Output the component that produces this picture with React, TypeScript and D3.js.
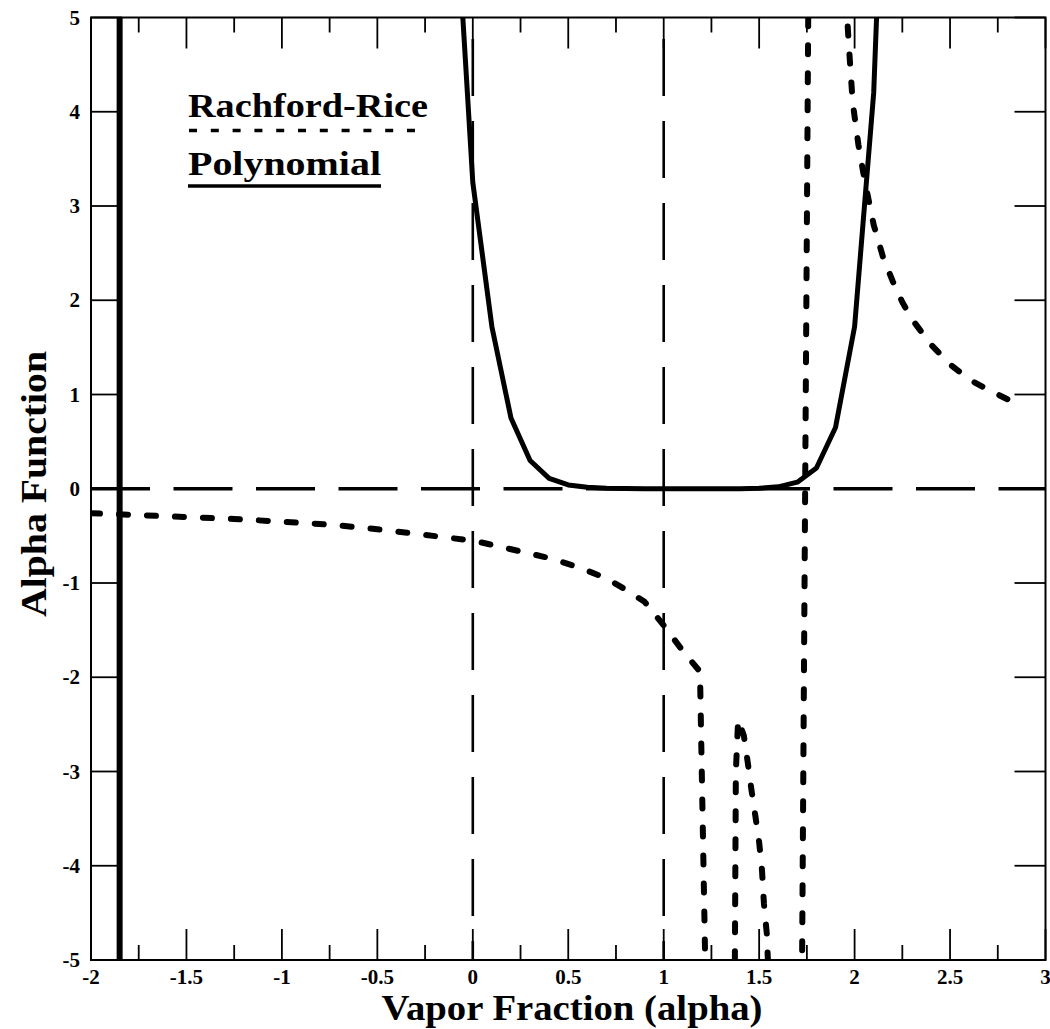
import React from "react";
import * as d3 from "d3";

// ---- data ----
const polyX = [-0.1, 0, 0.1, 0.2, 0.3, 0.4, 0.5, 0.6, 0.7, 0.8, 0.9, 1.0, 1.1, 1.2, 1.3, 1.4, 1.5, 1.6, 1.7, 1.8, 1.9, 2.0, 2.1, 2.2];
const polyY = [6.6, 3.25, 1.72, 0.75, 0.3, 0.11, 0.04, 0.015, 0.006, 0.002, 0.001, 0, 0, 0, 0.0005, 0.001, 0.005, 0.02, 0.07, 0.22, 0.65, 1.72, 4.2, 9.5];
const polyPoleX = [-1.85, -1.85];
const polyPoleY = [6, -6];

const rr1X = [-2, -1.75, -1.5, -1.25, -1, -0.75, -0.5, -0.25, 0, 0.1, 0.25, 0.4, 0.55, 0.7, 0.8, 0.9, 1.0, 1.1, 1.19, 1.22];
const rr1Y = [-0.26, -0.28, -0.3, -0.32, -0.35, -0.38, -0.43, -0.49, -0.55, -0.595, -0.665, -0.735, -0.83, -0.95, -1.07, -1.2, -1.45, -1.72, -1.94, -5.3];
const rr2X = [1.372, 1.378, 1.39, 1.42, 1.44, 1.46, 1.48, 1.5, 1.515, 1.525, 1.54, 1.55];
const rr2Y = [-5.3, -3.0, -2.45, -2.62, -2.9, -3.2, -3.47, -3.75, -4.05, -4.4, -4.72, -5.2];
const rr3X = [1.758, 1.724];
const rr3Y = [5.3, -5.3];
const rr4X = [1.955, 1.97, 1.99, 2.02, 2.05, 2.1, 2.15, 2.2, 2.25, 2.3, 2.4, 2.5, 2.6, 2.7, 2.82];
const rr4Y = [5.2, 4.7, 4.1, 3.65, 3.3, 2.8, 2.45, 2.2, 1.98, 1.8, 1.53, 1.32, 1.16, 1.05, 0.93];

const xTickLabels = [-2, -1.5, -1, -0.5, 0, 0.5, 1, 1.5, 2, 2.5, 3];
const yTickLabels = [5, 4, 3, 2, 1, 0, -1, -2, -3, -4, -5];
const xMinorTicks = d3.range(-2, 3.001, 0.25);
const refX = [0, 1];
const refY = [0];

const xTitle = "Vapor Fraction (alpha)";
const yTitle = "Alpha Function";
const legendRR = "Rachford-Rice";
const legendPoly = "Polynomial";

const FONT = "'Liberation Serif', 'Times New Roman', serif";

export default function App() {
  const W = 1050, H = 1029;
  const L = 91, R = 1045.5, T = 17.5, B = 960;
  const x = d3.scaleLinear().domain([-2, 3]).range([L, R]);
  const y = d3.scaleLinear().domain([-5, 5]).range([B, T]);
  const line = (xs: number[], ys: number[]) =>
    d3.line<number>().x((_, i) => x(xs[i])).y((_, i) => y(ys[i]))(xs) || "";

  const fmt = (v: number) => (v === 0 ? "0" : String(v));

  return (
    <svg width={W} height={H} style={{ position: "absolute", left: 0, top: 0, background: "#fff" }}>
      <defs>
        <clipPath id="plot">
          <rect x={L} y={T} width={R - L} height={B - T} />
        </clipPath>
      </defs>
      <rect x={0} y={0} width={W} height={H} fill="#fff" />

      {/* reference dashed lines */}
      <g clipPath="url(#plot)">
        {refY.map((v) => (
          <line key={"ry" + v} x1={L} x2={R} y1={y(v)} y2={y(v)} stroke="#000" strokeWidth={3.5} strokeDasharray="59 23.5" />
        ))}
        {refX.map((v) => (
          <line key={"rx" + v} x1={x(v)} x2={x(v)} y1={T} y2={B} stroke="#000" strokeWidth={2.6} strokeDasharray="57 25" strokeDashoffset={60.5} />
        ))}
      </g>

      {/* curves */}
      <g clipPath="url(#plot)" fill="none" stroke="#000">
        <path d={line(polyX, polyY)} strokeWidth={5} strokeLinejoin="round" />
        <path d={line(polyPoleX, polyPoleY)} strokeWidth={6} />
        {[
          [rr1X, rr1Y],
          [rr2X, rr2Y],
          [rr3X, rr3Y],
          [rr4X, rr4Y],
        ].map(([xs, ys], i) => (
          <path key={"rr" + i} d={line(xs, ys)} strokeWidth={6} strokeDasharray="9 19" strokeLinecap="round" strokeLinejoin="round" />
        ))}
      </g>

      {/* frame */}
      <rect x={L} y={T} width={R - L} height={B - T} fill="none" stroke="#000" strokeWidth={2} />

      {/* ticks */}
      <g stroke="#000" strokeWidth={1.8}>
        {xMinorTicks.map((v) => {
          const major = Math.abs(v * 2 - Math.round(v * 2)) < 1e-6;
          const len = major ? 31 : 15;
          return (
            <g key={"xt" + v}>
              <line x1={x(v)} x2={x(v)} y1={B} y2={B - len} />
              <line x1={x(v)} x2={x(v)} y1={T} y2={T + len} />
            </g>
          );
        })}
        {yTickLabels.map((v) => (
          <g key={"yt" + v}>
            <line x1={L} x2={L + 31} y1={y(v)} y2={y(v)} />
            <line x1={R} x2={R - 31} y1={y(v)} y2={y(v)} />
          </g>
        ))}
      </g>

      {/* tick labels */}
      <g fontFamily={FONT} fontWeight="bold" fontSize={21} fill="#000">
        {xTickLabels.map((v) => (
          <text key={"xl" + v} x={x(v)} y={984} textAnchor="middle">{fmt(v)}</text>
        ))}
        {yTickLabels.map((v) => (
          <text key={"yl" + v} x={80} y={y(v) + 7} textAnchor="end">{fmt(v)}</text>
        ))}
      </g>

      {/* axis titles */}
      <text x={572} y={1020} textAnchor="middle" fontFamily={FONT} fontWeight="bold" fontSize={36}
        textLength={381} lengthAdjust="spacingAndGlyphs">{xTitle}</text>
      <text transform={`translate(46,${484}) rotate(-90)`} textAnchor="middle" fontFamily={FONT} fontWeight="bold" fontSize={36}
        textLength={266} lengthAdjust="spacingAndGlyphs">{yTitle}</text>

      {/* legend */}
      <text x={188} y={117} fontFamily={FONT} fontWeight="bold" fontSize={33} textLength={240} lengthAdjust="spacingAndGlyphs">{legendRR}</text>
      <line x1={189} x2={428} y1={130.5} y2={130.5} stroke="#000" strokeWidth={3.5} strokeDasharray="8 13.8" />
      <text x={188} y={175} fontFamily={FONT} fontWeight="bold" fontSize={33} textLength={193} lengthAdjust="spacingAndGlyphs">{legendPoly}</text>
      <line x1={188} x2={381} y1={186} y2={186} stroke="#000" strokeWidth={3.5} />
    </svg>
  );
}
